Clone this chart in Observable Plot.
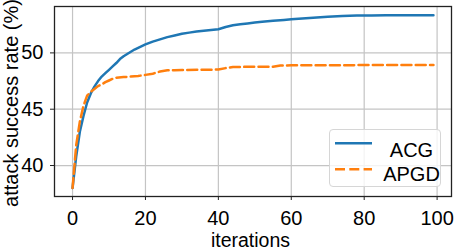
<!DOCTYPE html>
<html>
<head>
<meta charset="utf-8">
<script src="https://cdn.jsdelivr.net/npm/d3@7"></script>
<script src="https://cdn.jsdelivr.net/npm/@observablehq/plot@0.6"></script>
<style>
  html, body { margin: 0; padding: 0; background: #fff; }
  svg { display: block; }
</style>
</head>
<body>
<div id="chart"></div>
<script>
const acgIter = [0,1,2,3,4,5,6,7,8,9,10,11,12,13,14,15,16,17,18,19,20,22,24,26,28,30,32,34,36,38,40,42,44,46,48,50,52,55,58,60,63,66,70,74,78,82,86,90,95,99];
const acgRate = [38.0,40.8,43.0,44.4,45.6,46.4,47.0,47.5,47.9,48.2,48.5,48.8,49.1,49.45,49.7,49.9,50.1,50.3,50.45,50.6,50.75,51.0,51.2,51.4,51.55,51.7,51.8,51.9,51.97,52.03,52.1,52.3,52.45,52.55,52.62,52.7,52.76,52.85,52.93,52.98,53.05,53.13,53.22,53.28,53.32,53.33,53.34,53.34,53.34,53.34];
const apgdIter = [0,1,2,3,4,5,6,7,8,9,10,11,12,14,16,18,20,22,24,26,28,30,35,40,42,44,50,55,57,60,70,80,90,99];
const apgdRate = [38.0,41.8,43.9,45.3,46.2,46.55,46.8,47.05,47.2,47.4,47.55,47.7,47.8,47.85,47.9,47.95,48.05,48.15,48.35,48.45,48.47,48.48,48.5,48.52,48.65,48.75,48.77,48.78,48.88,48.9,48.9,48.92,48.92,48.92];
const seriesNames = ["ACG", "APGD"];
const xTicks = [0, 20, 40, 60, 80, 100];
const yTicks = [40, 45, 50];
const xLabel = "iterations";
const yLabel = "attack success rate (%)";

const acg = acgIter.map((x, i) => ({x, y: acgRate[i]}));
const apgd = apgdIter.map((x, i) => ({x, y: apgdRate[i]}));

const W = 462, H = 250;
const mL = 54, mT = 6, mR = 11, mB = 54;
const FONT = "'Liberation Sans', Arial, sans-serif";
const BLUE = "#1f77b4", ORANGE = "#ff7f0e";

const plot = Plot.plot({
  width: W, height: H,
  marginLeft: mL, marginTop: mT, marginRight: mR, marginBottom: mB,
  style: {fontFamily: FONT, fontSize: "20px", color: "#000", background: "#fff"},
  x: {domain: [-4.95, 103.95], ticks: xTicks},
  y: {domain: [37.25, 54.12], ticks: yTicks},
  marks: [
    Plot.gridX(xTicks, {stroke: "#c4c4c4", strokeOpacity: 1, strokeWidth: 1.2}),
    Plot.gridY(yTicks, {stroke: "#c4c4c4", strokeOpacity: 1, strokeWidth: 1.2}),
    Plot.axisX(xTicks, {tickSize: 4, tickPadding: 10, label: null, fontSize: 20, stroke: "#222"}),
    Plot.axisY(yTicks, {tickSize: 4, tickPadding: 7, label: null, fontSize: 20, stroke: "#222"}),
    Plot.line(acg, {x: "x", y: "y", stroke: BLUE, strokeWidth: 2.5}),
    Plot.line(apgd, {x: "x", y: "y", stroke: ORANGE, strokeWidth: 2.5, strokeDasharray: "10,4.3"}),
    Plot.frame({stroke: "#222", strokeWidth: 1.3})
  ]
});

const svg = d3.select(plot);
// axis titles
svg.append("text")
  .attr("x", (mL + W - mR) / 2 - 2).attr("y", 247)
  .attr("text-anchor", "middle")
  .style("font-family", FONT).style("font-size", "19.5px").attr("fill", "#000")
  .text(xLabel);
svg.append("text")
  .attr("transform", `translate(17.5, ${103}) rotate(-90)`)
  .attr("text-anchor", "middle")
  .style("font-family", FONT).style("font-size", "20px").attr("fill", "#000")
  .text(yLabel);

// legend
const lg = svg.append("g");
lg.append("rect")
  .attr("x", 329.5).attr("y", 129.5).attr("width", 111).attr("height", 57)
  .attr("rx", 3.5).attr("fill", "#fff").attr("fill-opacity", 0.8)
  .attr("stroke", "#d6d6d6").attr("stroke-width", 1);
const rows = [
  {name: seriesNames[0], color: BLUE, dash: null, ly: 143.3, ty: 157},
  {name: seriesNames[1], color: ORANGE, dash: "10,4.3", ly: 169.3, ty: 181}
];
rows.forEach(r => {
  lg.append("line").attr("x1", 335).attr("x2", 372).attr("y1", r.ly).attr("y2", r.ly)
    .attr("stroke", r.color).attr("stroke-width", 2.5)
    .attr("stroke-dasharray", r.dash);
  lg.append("text").attr("x", 411.5).attr("y", r.ty).attr("text-anchor", "middle")
    .style("font-family", FONT).style("font-size", "20px").attr("fill", "#000")
    .text(r.name);
});

document.getElementById("chart").appendChild(plot);
</script>
</body>
</html>
